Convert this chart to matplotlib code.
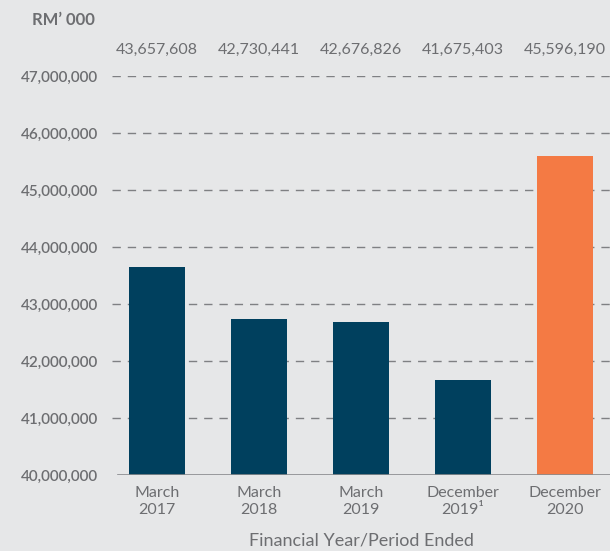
import matplotlib.pyplot as plt
from matplotlib.ticker import FuncFormatter

periods = ['March\n2017', 'March\n2018', 'March\n2019', 'December\n2019\u00b9', 'December\n2020']
values = [43657608, 42730441, 42676826, 41675403, 45596190]
bar_colors = ['#00405e', '#00405e', '#00405e', '#00405e', '#f47a44']
yticks = [40000000, 41000000, 42000000, 43000000, 44000000, 45000000, 46000000, 47000000]

bg = '#e6e7e8'
grey = '#6d6e71'
plt.rcParams['font.family'] = ['Lato', 'DejaVu Sans']

fig = plt.figure(figsize=(6.1, 5.51), dpi=100, facecolor=bg)
ax = fig.add_axes([112 / 610, 1 - 475 / 551, 1 - 112 / 610, (475 - 76) / 551])
ax.set_facecolor(bg)

x = list(range(len(values)))
ax.bar(x, values, width=0.55, color=bar_colors, zorder=3)

# dashed gridlines
for yv in yticks[1:]:
    ax.axhline(yv, color='#7f8083', lw=1, ls=(0, (6, 5)), zorder=1)
ax.axhline(yticks[0], xmin=6 / 498, color='#8a8b8e', lw=1.2, zorder=4)

ax.set_xlim(-0.441, 4.441)
ax.set_ylim(40000000, 47000000)
ax.set_yticks(yticks)
ax.yaxis.set_major_formatter(FuncFormatter(lambda v, p: f'{int(v):,}'))
ax.set_xticks(x)
ax.set_xticklabels(periods, color=grey, fontsize=11.5, linespacing=1.25)
for lab in ax.get_yticklabels():
    lab.set_color(grey)
    lab.set_fontsize(11)
    lab.set_fontweight('semibold')
ax.tick_params(length=0)
ax.tick_params(axis='y', pad=10)
ax.tick_params(axis='x', pad=8)
for s in ax.spines.values():
    s.set_visible(False)

# value labels above plot area
for xi, v in zip(x, values):
    ax.text(xi, 1.065, f'{v:,}', transform=ax.get_xaxis_transform(),
            ha='center', va='center', color=grey, fontsize=11.5)

fig.text(95 / 610, 1 - 20 / 551, 'RM\u2019 000', ha='right', va='center',
         color=grey, fontsize=12, fontweight='bold')
ax.set_xlabel('Financial Year/Period Ended', color=grey, fontsize=13, labelpad=11)

fig.savefig('out.png', dpi=100, facecolor=bg)
